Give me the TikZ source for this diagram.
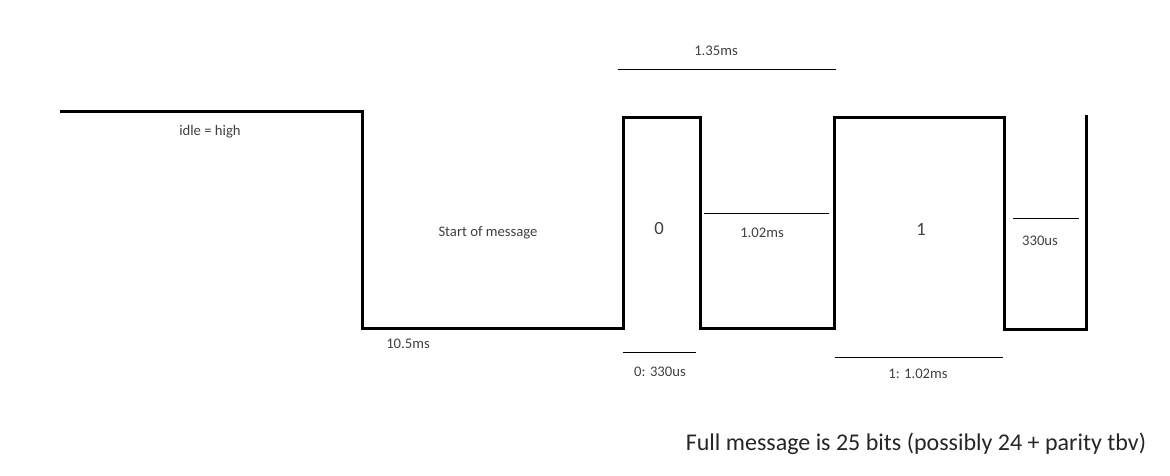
\documentclass[tikz,border=0pt]{standalone}
\usepackage{fontspec}
\setmainfont{Carlito}
\usetikzlibrary{positioning}

\definecolor{labelgrey}{HTML}{404040}

\begin{document}
\begin{tikzpicture}[
			x=1pt, y=-1pt,
			every node/.style={font=\fontsize{14.67}{17}\selectfont, text=labelgrey, inner sep=0pt},
			wave/.style={line width=3pt, line cap=butt, line join=miter},
			span/.style={line width=1pt},
			bigtext/.style={font=\fontsize{18.67}{22}\selectfont},
			notetext/.style={font=\fontsize{24}{28}\selectfont, text=black!85}
			]
			\useasboundingbox (0,0) rectangle (1170,476);
			
			% Waveform
			\coordinate (W0) at (60,112);
			\coordinate (W1) at (362,112);
			\coordinate (W2) at (362,328);
			\coordinate (W3) at (623,328);
			\coordinate (W4) at (623,118);
			\coordinate (W5) at (700,118);
			\coordinate (W6) at (700,328);
			\coordinate (W7) at (834,328);
			\coordinate (W8) at (834,118);
			\coordinate (W9) at (1004,118);
			\coordinate (W10) at (1004,329);
			\coordinate (W11) at (1086,329);
			\coordinate (W12) at (1086,115);
			
			\draw[wave] (W0) -- (W1) -- (W2) -- (W3) -- (W4) -- (W5) -- (W6)
				-- (W7) -- (W8) -- (W9) -- (W10) -- (W11) -- (W12);
			
			% Timing marks
			\coordinate (T0a) at (618,70);  \coordinate (T0b) at (836,70);
			\coordinate (T1a) at (704,213); \coordinate (T1b) at (829,213);
			\coordinate (T2a) at (623,352); \coordinate (T2b) at (696,352);
			\coordinate (T3a) at (835,357); \coordinate (T3b) at (1003,357);
			\coordinate (T4a) at (1013,218); \coordinate (T4b) at (1079,218);
			
			\draw[span] (T0a) -- (T0b);
			\draw[span] (T1a) -- (T1b);
			\draw[span] (T2a) -- (T2b);
			\draw[span] (T3a) -- (T3b);
			\draw[span] (T4a) -- (T4b);
			
			% Labels
			\node (idle) at (210,132) {idle = high};
			\node (start) at (488,233) {Start of message};
			\node (startlen) at (408,344) {10.5ms};
			\node (period) at (716,51) {1.35ms};
			\node (zero) [bigtext] at (659,229) {0};
			\node (one) [bigtext] at (921,229) {1};
			\node (lowlen) at (762,233) {1.02ms};
			\node (zerolen) at (660,372) {0: 330us};
			\node (onelen) at (918,374) {1: 1.02ms};
			\node (shortlen) at (1040,241) {330us};
			\node (note) [notetext] at (916,444) {Full message is 25 bits (possibly 24 + parity tbv)};
		\end{tikzpicture}
\end{document}
